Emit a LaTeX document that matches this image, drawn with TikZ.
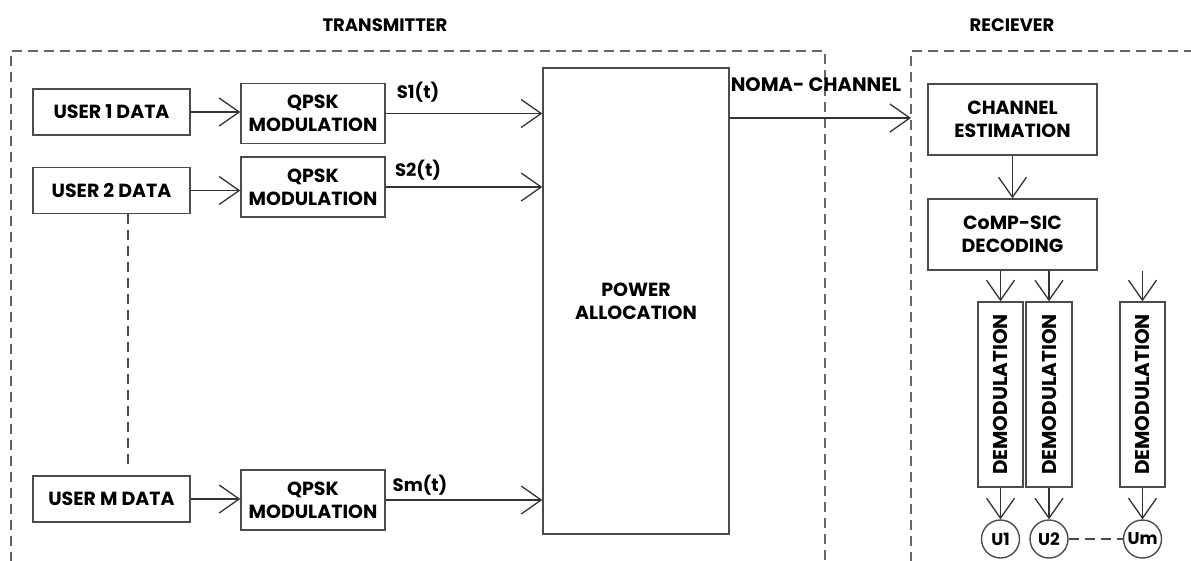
\documentclass[tikz,border=0pt]{standalone}
\usepackage{fontspec}
\setmainfont{Poppins}
\usetikzlibrary{arrows.meta}
\begin{document}
\begin{tikzpicture}[x=1pt,y=-1pt,
  box/.style={draw=black!70, line width=1.4pt, inner sep=0pt, align=center,
    font=\bfseries\fontsize{19}{23}\selectfont},
  vbox/.style={box, minimum width=45pt, minimum height=185pt, font=\bfseries\fontsize{20}{22}\selectfont},
  ubox/.style={box, minimum width=157pt, minimum height=46pt},
  qbox/.style={box, minimum width=144pt, minimum height=60pt},
  ucirc/.style={circle, draw=black!70, line width=1.4pt, inner sep=0pt, minimum size=38pt,
    font=\bfseries\fontsize{17}{19}\selectfont},
  arr/.style={draw=black!80, line width=1.3pt, -{Straight Barb[length=20pt,width=28pt,line width=1.3pt]}},
  dashbox/.style={draw=black!60, line width=1.4pt, dash pattern=on 10pt off 6pt},
  dline/.style={draw=black!70, line width=1.3pt, dash pattern=on 10pt off 6pt},
  lbl/.style={font=\bfseries\fontsize{18}{20}\selectfont, inner sep=0pt}
]
\fill[white] (0,0) rectangle (1191,560);
\path[use as bounding box] (0,0) rectangle (1191,560);

% titles
\node[lbl] (ttx) at (385,25) {TRANSMITTER};
\node[lbl] (trx) at (1012,25) {RECIEVER};

% dashed enclosures
\draw[dashbox] (11,562) -- (11,51) -- (825,51) -- (825,562);
\draw[dashbox] (911,562) -- (911,51) -- (1193,51);

% transmitter blocks
\node[ubox] (u1) at (111.5,112) {USER 1 DATA};
\node[ubox] (u2) at (111.5,190.5) {USER 2 DATA};
\node[ubox] (um) at (111.5,499) {USER M DATA};
\node[qbox] (q1) at (313,113.5) {QPSK\\MODULATION};
\node[qbox] (q2) at (313,187) {QPSK\\MODULATION};
\node[qbox] (qm) at (313,500) {QPSK\\MODULATION};
\node[box, minimum width=186pt, minimum height=466pt] (pa) at (636,301) {POWER\\ALLOCATION};

\draw[arr] (u1.east) -- (u1.east -| q1.west);
\draw[arr] (u2.east) -- (u2.east -| q2.west);
\draw[arr] (um.east) -- (um.east -| qm.west);
\draw[arr] (q1.east) -- (q1.east -| pa.west);
\draw[arr] (q2.east) -- (q2.east -| pa.west);
\draw[arr] (qm.east) -- (qm.east -| pa.west);

\node[lbl] (s1) at (418,92) {S1(t)};
\node[lbl] (s2) at (418,170) {S2(t)};
\node[lbl] (sm) at (420,485) {Sm(t)};

\draw[dline] ([xshift=16.5pt]u2.south) -- ([xshift=16.5pt,yshift=11pt]um.north);

% channel
\coordinate (rxin) at (911,118);
\draw[arr] (pa.east |- rxin) -- (rxin);
\node[lbl, font=\bfseries\fontsize{19.5}{21}\selectfont] (noma) at (816,85) {NOMA- CHANNEL};

% receiver blocks
\node[box, minimum width=169pt, minimum height=71pt] (ce) at (1012.5,119.5) {CHANNEL\\ESTIMATION};
\node[box, minimum width=169pt, minimum height=71pt] (cs) at (1012.5,234.5) {CoMP-SIC\\DECODING};
\draw[arr] (ce.south) -- (cs.north);

\node[vbox] (d1) at (1000.5,394.5) {\rotatebox{90}{DEMODULATION}};
\node[vbox, minimum width=46pt] (d2) at (1049,394.5) {\rotatebox{90}{DEMODULATION}};
\node[vbox] (d3) at (1142.5,394.5) {\rotatebox{90}{DEMODULATION}};

\draw[arr] (cs.south -| d1.north) -- (d1.north);
\draw[arr] (cs.south -| d2.north) -- (d2.north);
\draw[arr] (cs.south -| d3.north) -- (d3.north);

\node[ucirc] (c1) at (1000.5,539) {U1};
\node[ucirc] (c2) at (1049,539) {U2};
\node[ucirc] (c3) at (1142.5,539) {Um};

\draw[arr] (d1.south) -- (c1.north);
\draw[arr] (d2.south) -- (c2.north);
\draw[arr] (d3.south) -- (c3.north);
\draw[dline] (c2.east) -- (c3.west);
\end{tikzpicture}
\end{document}
